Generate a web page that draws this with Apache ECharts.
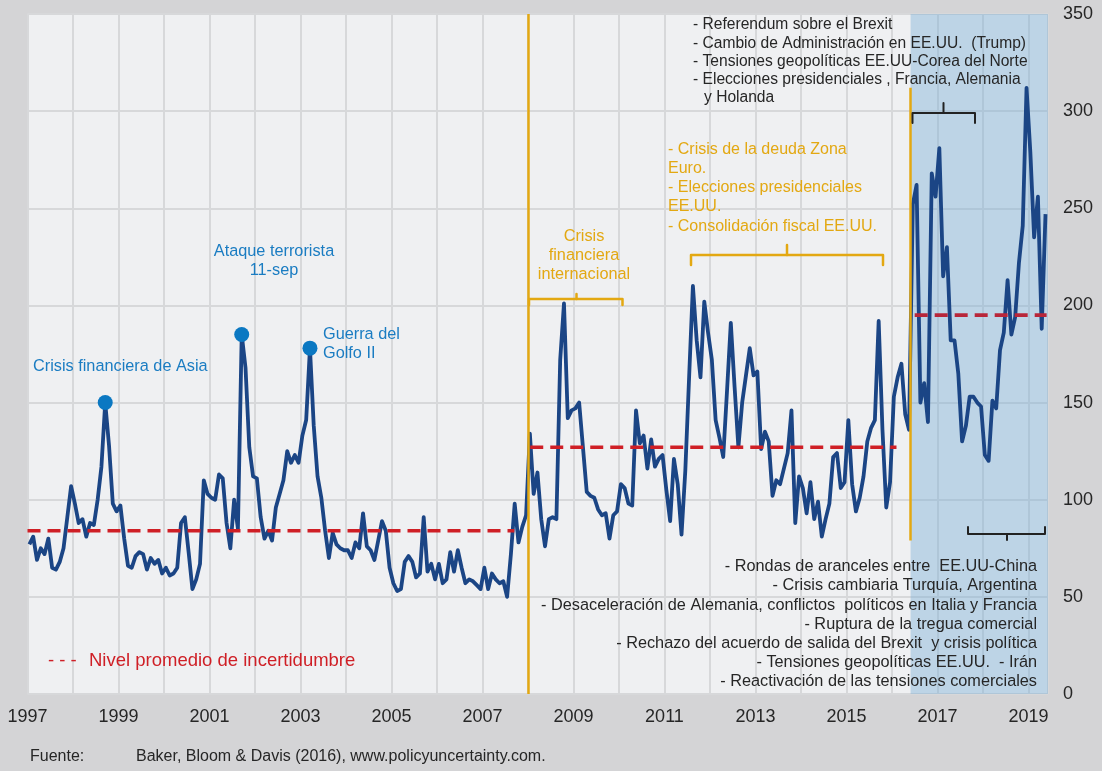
<!DOCTYPE html>
<html>
<head>
<meta charset="utf-8">
<script src="https://cdn.jsdelivr.net/npm/echarts@6/dist/echarts.min.js"></script>
<style>
  html, body { margin: 0; padding: 0; background: #d4d4d6; }
  #chart { width: 1102px; height: 771px; }
</style>
</head>
<body>
<div id="chart"></div>
<script>
// Monthly global economic policy uncertainty index, Jan 1997 - May 2019
const startYear = 1997;
const v1997 = [77, 81, 69, 75, 72, 80, 65, 64, 68, 75, 91, 107];
const v1998 = [98, 88, 90, 81, 88, 87, 100, 117, 150, 128, 98, 94];
const v1999 = [97, 80, 66, 65, 71, 73, 72, 64, 70, 67, 69, 62];
const v2000 = [65, 61, 62, 65, 88, 91, 73, 54, 59, 67, 110, 103];
const v2001 = [101, 100, 113, 111, 88, 75, 100, 85, 185, 168, 127, 112];
const v2002 = [111, 91, 80, 84, 79, 96, 103, 110, 125, 119, 123, 119];
const v2003 = [133, 141, 178, 138, 112, 101, 84, 70, 83, 77, 75, 74];
const v2004 = [74, 70, 78, 75, 93, 76, 74, 69, 79, 89, 84, 65];
const v2005 = [57, 53, 54, 68, 71, 68, 60, 62, 91, 63, 67, 59];
const v2006 = [67, 57, 59, 73, 63, 74, 65, 57, 59, 58, 56, 54];
const v2007 = [65, 54, 62, 59, 57, 58, 50, 72, 98, 78, 86, 92];
const v2008 = [134, 103, 114, 90, 76, 90, 91, 90, 172, 201, 142, 146];
const v2009 = [147, 150, 127, 104, 102, 101, 95, 92, 93, 80, 92, 94];
const v2010 = [108, 106, 98, 97, 146, 129, 133, 116, 131, 117, 121, 123];
const v2011 = [105, 89, 121, 108, 82, 115, 163, 210, 182, 163, 202, 186];
const v2012 = [172, 141, 132, 122, 156, 191, 158, 127, 150, 164, 178, 164];
const v2013 = [166, 126, 135, 130, 102, 110, 108, 116, 124, 146, 88, 112];
const v2014 = [106, 93, 109, 90, 99, 81, 90, 98, 122, 124, 106, 109];
const v2015 = [141, 108, 94, 101, 112, 130, 137, 141, 192, 136, 96, 109];
const v2016 = [153, 163, 170, 144, 136, 252, 262, 150, 160, 140, 268, 256];
const v2017 = [281, 215, 230, 182, 182, 165, 130, 138, 153, 153, 150, 148];
const v2018 = [123, 120, 151, 147, 177, 186, 213, 185, 194, 222, 241, 312];
const v2019 = [279, 235, 256, 188, 247];

// Average uncertainty level of each period and the span it covers (years)
const avgLevels = [84, 127, 195];
const avgSpans = [[1997.0, 2007.7], [2008.05, 2016.1], [2016.5, 2019.4]];

// Highlighted episodes (year, month)
const eventMonths = [[1998, 9], [2001, 9], [2003, 3]];

// Axis settings
const xMin = 1997, xMax = 2019.43;
const xLabelYears = [1997, 1999, 2001, 2003, 2005, 2007, 2009, 2011, 2013, 2015, 2017, 2019];
const yTicks = [0, 50, 100, 150, 200, 250, 300, 350];

// Period boundaries
const crisisStart = 2008.0;
const brexitStart = 2016.41;

const monthly = [].concat(v1997, v1998, v1999, v2000, v2001, v2002, v2003, v2004,
  v2005, v2006, v2007, v2008, v2009, v2010, v2011, v2012, v2013, v2014, v2015,
  v2016, v2017, v2018, v2019);
const monthX = i => startYear + (i + 0.5) / 12;
const lineData = monthly.map((v, i) => [monthX(i), v]);
const eventData = eventMonths.map(([y, m]) => {
  const i = (y - startYear) * 12 + (m - 1);
  return [monthX(i), monthly[i]];
});

const FONT = '"Liberation Sans", Arial, sans-serif';
const DARK = '#262626';
const BLUE = '#1a7cc2';
const ORANGE = '#e3a812';
const RED = '#cf1f26';

const chart = echarts.init(document.getElementById('chart'), null, { renderer: 'canvas' });

const avgSeries = avgLevels.map((lvl, k) => ({
  type: 'line',
  data: [[avgSpans[k][0], lvl], [avgSpans[k][1], lvl]],
  symbol: 'none',
  silent: true,
  z: 4,
  lineStyle: { color: k === 2 ? '#b8263a' : RED, width: 3.6, type: [13, 7], cap: 'butt' }
}));

function txt(text, x, y, color, size, align) {
  return {
    type: 'text', silent: true, z: 50,
    style: {
      text: text, x: x, y: y, fill: color,
      font: size + 'px ' + FONT,
      align: align || 'left', textAlign: align || 'left',
      verticalAlign: 'middle', textVerticalAlign: 'middle'
    }
  };
}

// Bracket: horizontal bar with end hooks (dir = +1 hooks down, -1 hooks up) and a centre tick opposite
function bracket(x1, x2, y, hook, tickX, tick, color, width, dir) {
  return [
    {
      type: 'polyline', silent: true, z: 50,
      shape: { points: [[x1, y + dir * hook], [x1, y], [x2, y], [x2, y + dir * hook]] },
      style: { stroke: color, lineWidth: width, fill: null, lineJoin: 'round', lineCap: 'round' }
    },
    {
      type: 'polyline', silent: true, z: 50,
      shape: { points: [[tickX, y], [tickX, y - dir * tick]] },
      style: { stroke: color, lineWidth: width, fill: null, lineCap: 'round' }
    }
  ];
}

const graphics = [
  // Event labels
  txt('Crisis financiera de Asia', 33, 367, BLUE, 16.3),
  txt('Ataque terrorista', 274, 252, BLUE, 16.3, 'center'),
  txt('11-sep', 274, 271, BLUE, 16.3, 'center'),
  txt('Guerra del', 323, 335, BLUE, 16.3),
  txt('Golfo II', 323, 354, BLUE, 16.3),

  // 2008 crisis
  txt('Crisis', 584, 237, ORANGE, 16.3, 'center'),
  txt('financiera', 584, 256, ORANGE, 16.3, 'center'),
  txt('internacional', 584, 275, ORANGE, 16.3, 'center'),
  ...bracket(529, 622.5, 299, 6, 576.5, 5, ORANGE, 2.5, 1),

  // 2011-2015 episode
  txt('- Crisis de la deuda Zona', 668, 150, ORANGE, 16),
  txt('Euro.', 668, 169, ORANGE, 16),
  txt('- Elecciones presidenciales', 668, 188, ORANGE, 16),
  txt('EE.UU.', 668, 207, ORANGE, 16),
  txt('- Consolidación fiscal EE.UU.', 668, 226.5, ORANGE, 16),
  ...bracket(691, 883, 255, 10, 787, 10, ORANGE, 2.5, 1),

  // 2016-2017 episode
  txt('- Referendum sobre el Brexit', 693, 25, DARK, 15.6),
  txt('- Cambio de Administración en EE.UU.  (Trump)', 693, 43.5, DARK, 15.6),
  txt('- Tensiones geopolíticas EE.UU-Corea del Norte', 693, 62, DARK, 15.6),
  txt('- Elecciones presidenciales , Francia, Alemania', 693, 80, DARK, 15.6),
  txt('y Holanda', 704, 98, DARK, 15.6),
  ...bracket(912.5, 975, 113, 10, 943.5, 10, '#222222', 2, 1),

  // 2018-2019 episode
  ...bracket(968, 1045, 534, 7, 1007, 6, '#222222', 2, -1),
  txt('- Rondas de aranceles entre  EE.UU-China', 1037, 567, DARK, 16.3, 'right'),
  txt('- Crisis cambiaria Turquía, Argentina', 1037, 586, DARK, 16.3, 'right'),
  txt('- Desaceleración de Alemania, conflictos  políticos en Italia y Francia', 1037, 605.5, DARK, 16.3, 'right'),
  txt('- Ruptura de la tregua comercial', 1037, 625, DARK, 16.3, 'right'),
  txt('- Rechazo del acuerdo de salida del Brexit  y crisis política', 1037, 644, DARK, 16.3, 'right'),
  txt('- Tensiones geopolíticas EE.UU.  - Irán', 1037, 663, DARK, 16.3, 'right'),
  txt('- Reactivación de las tensiones comerciales', 1037, 682, DARK, 16.3, 'right'),

  // Legend
  txt('- - -', 48, 661, RED, 18.5),
  txt('Nivel promedio de incertidumbre', 89, 661, RED, 18.5),

  // Source
  txt('Fuente:', 30, 757, DARK, 16),
  txt('Baker, Bloom & Davis (2016), www.policyuncertainty.com.', 136, 757, DARK, 16)
];

chart.setOption({
  animation: false,
  backgroundColor: '#d4d4d6',
  grid: {
    left: 27.5, right: 54, top: 14, bottom: 77,
    show: true, backgroundColor: '#eff0f2', borderWidth: 0, containLabel: false
  },
  xAxis: {
    type: 'value', min: xMin, max: xMax, interval: 1,
    axisLine: { show: false }, axisTick: { show: false },
    axisLabel: {
      margin: 14, fontSize: 18, color: DARK, fontFamily: FONT,
      formatter: v => (xLabelYears.indexOf(v) >= 0 ? String(v) : '')
    },
    splitLine: { show: true, lineStyle: { color: '#d7d8da', width: 2 } }
  },
  yAxis: {
    type: 'value', position: 'right', min: yTicks[0], max: yTicks[yTicks.length - 1], interval: 50,
    axisLine: { show: false }, axisTick: { show: false },
    axisLabel: { margin: 15, fontSize: 18, color: DARK, fontFamily: FONT },
    splitLine: { show: true, lineStyle: { color: '#d7d8da', width: 2 } }
  },
  series: [
    {
      // shaded 2016-2019 period and the two period separators
      type: 'line', data: [], z: 1, silent: true,
      markArea: {
        silent: true,
        itemStyle: { color: 'rgba(120,175,215,0.42)' },
        data: [[{ xAxis: brexitStart }, { xAxis: xMax }]]
      },
      markLine: {
        silent: true, symbol: 'none', label: { show: false },
        lineStyle: { color: ORANGE, width: 2.5, type: 'solid' },
        data: [
          { xAxis: crisisStart },
          [{ coord: [brexitStart, 79] }, { coord: [brexitStart, 312] }]
        ]
      }
    },
    {
      type: 'line', data: lineData, symbol: 'none', z: 3,
      lineStyle: { color: '#1b4585', width: 3.8, join: 'round' }
    },
    ...avgSeries,
    {
      type: 'scatter', data: eventData, symbolSize: 15, z: 6,
      itemStyle: { color: '#0b78c2', opacity: 1 }
    }
  ],
  graphic: graphics
});
</script>
</body>
</html>
